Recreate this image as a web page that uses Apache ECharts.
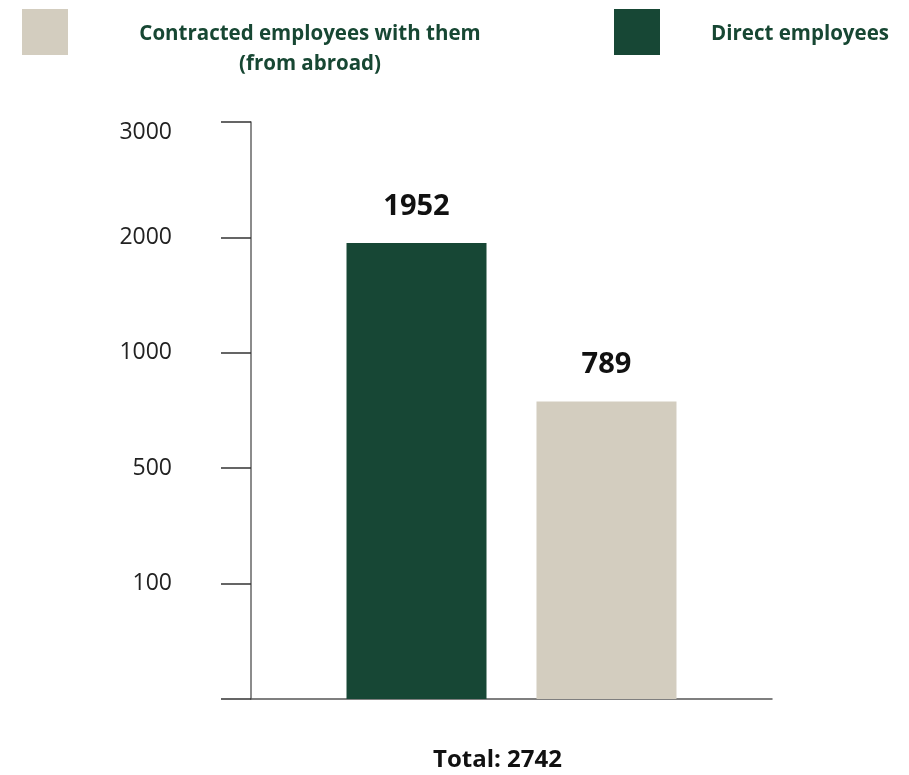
<!DOCTYPE html>
<html>
<head>
<meta charset="utf-8">
<script src="https://cdn.jsdelivr.net/npm/echarts@6/dist/echarts.min.js"></script>
<style>
  html, body { margin: 0; padding: 0; background: #fff; }
  #chart { width: 909px; height: 775px; }
</style>
</head>
<body>
<div id="chart"></div>
<script>
// Employee counts by type
const seriesNames = ['Contracted employees with them (from abroad)', 'Direct employees'];
const directValues = [1952];
const contractedValues = [789];
const totalText = 'Total: 2742';
// Axis ticks are evenly spaced, each labelled with its own value
const tickValues = [0, 100, 500, 1000, 2000, 3000];

const GREEN = '#174735';
const BEIGE = '#d3cdbf';
const TEXT_GREEN = '#174733';
const FONT = '"Open Sans", sans-serif';

// Map a value onto the evenly spaced tick positions (piecewise linear)
function toPos(v) {
  for (let i = 1; i < tickValues.length; i++) {
    if (v <= tickValues[i]) {
      const a = tickValues[i - 1], b = tickValues[i];
      return (i - 1) + (v - a) / (b - a);
    }
  }
  return tickValues.length - 1;
}

const chart = echarts.init(document.getElementById('chart'), null, { renderer: 'canvas' });

const labelStyle = {
  show: true,
  position: 'top',
  distance: 22,
  fontFamily: FONT,
  fontWeight: 'bold',
  fontSize: 29,
  color: '#111',
  formatter: p => p.data.raw
};

const legendText = {
  fontFamily: FONT, fontWeight: 'bold', fontSize: 20.5, color: TEXT_GREEN, lineHeight: 30
};

chart.setOption({
  animation: false,
  backgroundColor: '#fff',
  title: {
    text: totalText,
    left: 428,
    top: 743,
    textStyle: { fontFamily: FONT, fontWeight: 'bold', fontSize: 24, color: '#111' }
  },
  legend: [
    {
      data: [seriesNames[0]],
      left: 22, top: -13, padding: 0,
      itemWidth: 46, itemHeight: 46,
      icon: 'rect',
      selectedMode: false,
      formatter: () => '{s| }\n{a|Contracted employees with them}\n{a|(from abroad)}',
      textStyle: {
        ...legendText,
        rich: {
          s: { lineHeight: 30, fontSize: 10 },
          a: { ...legendText, width: 474, align: 'center', padding: [4, 0, 0, 0] }
        }
      }
    },
    {
      data: [seriesNames[1]],
      left: 614, top: 9, padding: 0,
      itemWidth: 46, itemHeight: 46,
      icon: 'rect',
      selectedMode: false,
      formatter: name => '{a|' + name + '}',
      textStyle: {
        ...legendText,
        rich: { a: { ...legendText, width: 270, align: 'center', padding: [4, 0, 0, 0] } }
      }
    }
  ],
  grid: { left: 251, right: 137, top: 122, bottom: 76 },
  xAxis: {
    type: 'category',
    data: ['Employees'],
    axisLine: { lineStyle: { color: '#555', width: 1.5 } },
    axisTick: { show: false },
    axisLabel: { show: false }
  },
  yAxis: {
    type: 'value',
    min: 0, max: tickValues.length - 1, interval: 1,
    axisLine: { show: true, lineStyle: { color: '#666', width: 1.5 } },
    axisTick: { show: true, length: 30, lineStyle: { color: '#333', width: 1.5 } },
    splitLine: { show: false },
    axisLabel: {
      margin: 79,
      fontFamily: FONT, fontSize: 23, color: '#222',
      formatter: v => {
        if (v === 0) return '';
        if (v === tickValues.length - 1) return '{t|' + tickValues[v] + '}';
        return String(tickValues[v]);
      },
      rich: {
        t: { fontFamily: FONT, fontSize: 23, color: '#222', padding: [20, 0, 0, 0] }
      }
    }
  },
  series: [
    {
      name: seriesNames[1],
      type: 'bar',
      barWidth: 140,
      barGap: '35.7%',
      itemStyle: { color: GREEN },
      label: labelStyle,
      data: directValues.map(v => ({ value: toPos(v), raw: v }))
    },
    {
      name: seriesNames[0],
      type: 'bar',
      barWidth: 140,
      itemStyle: { color: BEIGE },
      label: labelStyle,
      data: contractedValues.map(v => ({ value: toPos(v), raw: v }))
    }
  ]
});
</script>
</body>
</html>
